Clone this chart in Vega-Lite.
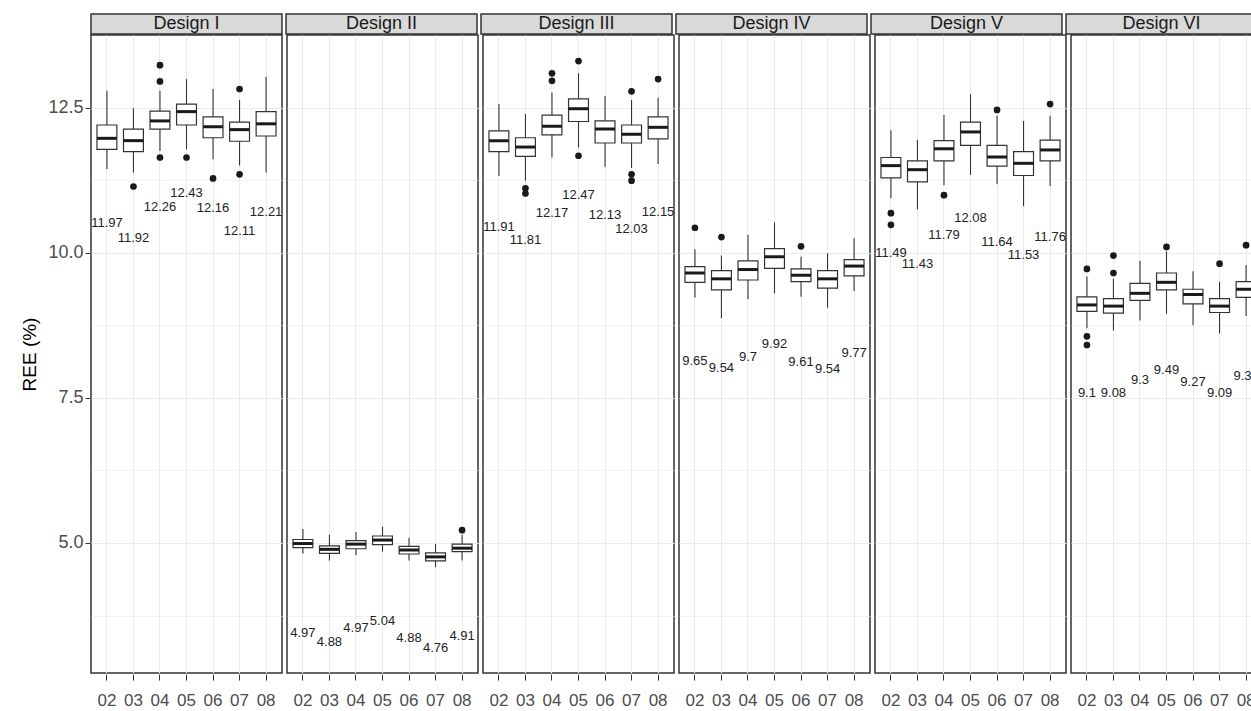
{
 "$schema": "https://vega.github.io/schema/vega-lite/v6.json",
 "padding": {"left": 20, "top": 13, "right": 0, "bottom": 5},
 "background": "white",
 "config": {
  "font": "Liberation Sans",
  "view": {"stroke": "#333333", "strokeWidth": 1.5}
 },
 "datasets": {
  "strips": [
   {"design": "Design I"}, {"design": "Design II"}, {"design": "Design III"},
   {"design": "Design IV"}, {"design": "Design V"}, {"design": "Design VI"}
  ],
  "ree": [
   {"design": "Design I", "year": "02", "lo": 11.44, "q1": 11.78, "med": 11.97, "q3": 12.20, "hi": 12.79, "mean": "11.97", "ly": 10.52},
   {"design": "Design I", "year": "03", "lo": 11.38, "q1": 11.74, "med": 11.93, "q3": 12.13, "hi": 12.49, "mean": "11.92", "ly": 10.245},
   {"design": "Design I", "year": "04", "lo": 11.75, "q1": 12.13, "med": 12.27, "q3": 12.44, "hi": 12.79, "mean": "12.26", "ly": 10.78},
   {"design": "Design I", "year": "05", "lo": 11.78, "q1": 12.20, "med": 12.43, "q3": 12.56, "hi": 12.99, "mean": "12.43", "ly": 11.02},
   {"design": "Design I", "year": "06", "lo": 11.61, "q1": 11.98, "med": 12.17, "q3": 12.34, "hi": 12.82, "mean": "12.16", "ly": 10.77},
   {"design": "Design I", "year": "07", "lo": 11.50, "q1": 11.92, "med": 12.12, "q3": 12.25, "hi": 12.63, "mean": "12.11", "ly": 10.38},
   {"design": "Design I", "year": "08", "lo": 11.38, "q1": 12.01, "med": 12.22, "q3": 12.43, "hi": 13.03, "mean": "12.21", "ly": 10.70},
   {"design": "Design I", "year": "03", "out": 11.14},
   {"design": "Design I", "year": "04", "out": 13.23},
   {"design": "Design I", "year": "04", "out": 12.95},
   {"design": "Design I", "year": "04", "out": 11.64},
   {"design": "Design I", "year": "05", "out": 11.64},
   {"design": "Design I", "year": "06", "out": 11.28},
   {"design": "Design I", "year": "07", "out": 12.82},
   {"design": "Design I", "year": "07", "out": 11.35},

   {"design": "Design II", "year": "02", "lo": 4.82, "q1": 4.92, "med": 4.99, "q3": 5.06, "hi": 5.24, "mean": "4.97", "ly": 3.446},
   {"design": "Design II", "year": "03", "lo": 4.70, "q1": 4.82, "med": 4.89, "q3": 4.95, "hi": 5.14, "mean": "4.88", "ly": 3.30},
   {"design": "Design II", "year": "04", "lo": 4.79, "q1": 4.90, "med": 4.98, "q3": 5.04, "hi": 5.19, "mean": "4.97", "ly": 3.53},
   {"design": "Design II", "year": "05", "lo": 4.85, "q1": 4.97, "med": 5.05, "q3": 5.12, "hi": 5.28, "mean": "5.04", "ly": 3.66},
   {"design": "Design II", "year": "06", "lo": 4.70, "q1": 4.81, "med": 4.88, "q3": 4.94, "hi": 5.09, "mean": "4.88", "ly": 3.36},
   {"design": "Design II", "year": "07", "lo": 4.58, "q1": 4.69, "med": 4.76, "q3": 4.83, "hi": 4.98, "mean": "4.76", "ly": 3.19},
   {"design": "Design II", "year": "08", "lo": 4.70, "q1": 4.85, "med": 4.91, "q3": 4.98, "hi": 5.14, "mean": "4.91", "ly": 3.40},
   {"design": "Design II", "year": "08", "out": 5.22},

   {"design": "Design III", "year": "02", "lo": 11.32, "q1": 11.74, "med": 11.93, "q3": 12.10, "hi": 12.56, "mean": "11.91", "ly": 10.435},
   {"design": "Design III", "year": "03", "lo": 11.24, "q1": 11.66, "med": 11.82, "q3": 11.98, "hi": 12.39, "mean": "11.81", "ly": 10.22},
   {"design": "Design III", "year": "04", "lo": 11.64, "q1": 12.03, "med": 12.18, "q3": 12.37, "hi": 12.76, "mean": "12.17", "ly": 10.68},
   {"design": "Design III", "year": "05", "lo": 11.81, "q1": 12.26, "med": 12.48, "q3": 12.65, "hi": 13.09, "mean": "12.47", "ly": 10.99},
   {"design": "Design III", "year": "06", "lo": 11.48, "q1": 11.89, "med": 12.13, "q3": 12.27, "hi": 12.70, "mean": "12.13", "ly": 10.65},
   {"design": "Design III", "year": "07", "lo": 11.46, "q1": 11.89, "med": 12.04, "q3": 12.20, "hi": 12.63, "mean": "12.03", "ly": 10.41},
   {"design": "Design III", "year": "08", "lo": 11.53, "q1": 11.96, "med": 12.16, "q3": 12.34, "hi": 12.67, "mean": "12.15", "ly": 10.70},
   {"design": "Design III", "year": "03", "out": 11.11},
   {"design": "Design III", "year": "03", "out": 11.02},
   {"design": "Design III", "year": "04", "out": 13.09},
   {"design": "Design III", "year": "04", "out": 12.96},
   {"design": "Design III", "year": "05", "out": 13.30},
   {"design": "Design III", "year": "05", "out": 11.67},
   {"design": "Design III", "year": "07", "out": 12.78},
   {"design": "Design III", "year": "07", "out": 11.35},
   {"design": "Design III", "year": "07", "out": 11.24},
   {"design": "Design III", "year": "08", "out": 12.99},

   {"design": "Design IV", "year": "02", "lo": 9.23, "q1": 9.49, "med": 9.65, "q3": 9.76, "hi": 10.06, "mean": "9.65", "ly": 8.14},
   {"design": "Design IV", "year": "03", "lo": 8.87, "q1": 9.36, "med": 9.55, "q3": 9.69, "hi": 9.95, "mean": "9.54", "ly": 8.01},
   {"design": "Design IV", "year": "04", "lo": 9.20, "q1": 9.53, "med": 9.71, "q3": 9.86, "hi": 10.31, "mean": "9.7", "ly": 8.21},
   {"design": "Design IV", "year": "05", "lo": 9.30, "q1": 9.73, "med": 9.93, "q3": 10.07, "hi": 10.52, "mean": "9.92", "ly": 8.43},
   {"design": "Design IV", "year": "06", "lo": 9.24, "q1": 9.50, "med": 9.61, "q3": 9.72, "hi": 9.93, "mean": "9.61", "ly": 8.11},
   {"design": "Design IV", "year": "07", "lo": 9.05, "q1": 9.39, "med": 9.55, "q3": 9.69, "hi": 9.99, "mean": "9.54", "ly": 8.00},
   {"design": "Design IV", "year": "08", "lo": 9.34, "q1": 9.60, "med": 9.77, "q3": 9.88, "hi": 10.25, "mean": "9.77", "ly": 8.27},
   {"design": "Design IV", "year": "02", "out": 10.43},
   {"design": "Design IV", "year": "03", "out": 10.27},
   {"design": "Design IV", "year": "06", "out": 10.11},

   {"design": "Design V", "year": "02", "lo": 10.94, "q1": 11.29, "med": 11.50, "q3": 11.64, "hi": 12.11, "mean": "11.49", "ly": 10.0},
   {"design": "Design V", "year": "03", "lo": 10.75, "q1": 11.22, "med": 11.43, "q3": 11.58, "hi": 11.94, "mean": "11.43", "ly": 9.81},
   {"design": "Design V", "year": "04", "lo": 11.16, "q1": 11.58, "med": 11.79, "q3": 11.93, "hi": 12.37, "mean": "11.79", "ly": 10.30},
   {"design": "Design V", "year": "05", "lo": 11.34, "q1": 11.85, "med": 12.08, "q3": 12.25, "hi": 12.73, "mean": "12.08", "ly": 10.60},
   {"design": "Design V", "year": "06", "lo": 11.18, "q1": 11.49, "med": 11.65, "q3": 11.85, "hi": 12.36, "mean": "11.64", "ly": 10.19},
   {"design": "Design V", "year": "07", "lo": 10.80, "q1": 11.33, "med": 11.54, "q3": 11.74, "hi": 12.27, "mean": "11.53", "ly": 9.96},
   {"design": "Design V", "year": "08", "lo": 11.15, "q1": 11.58, "med": 11.77, "q3": 11.94, "hi": 12.36, "mean": "11.76", "ly": 10.27},
   {"design": "Design V", "year": "02", "out": 10.68},
   {"design": "Design V", "year": "02", "out": 10.48},
   {"design": "Design V", "year": "04", "out": 10.99},
   {"design": "Design V", "year": "06", "out": 12.46},
   {"design": "Design V", "year": "08", "out": 12.56},

   {"design": "Design VI", "year": "02", "lo": 8.70, "q1": 8.99, "med": 9.10, "q3": 9.24, "hi": 9.59, "mean": "9.1", "ly": 7.58},
   {"design": "Design VI", "year": "03", "lo": 8.66, "q1": 8.96, "med": 9.08, "q3": 9.21, "hi": 9.55, "mean": "9.08", "ly": 7.58},
   {"design": "Design VI", "year": "04", "lo": 8.83, "q1": 9.18, "med": 9.30, "q3": 9.47, "hi": 9.86, "mean": "9.3", "ly": 7.80},
   {"design": "Design VI", "year": "05", "lo": 8.95, "q1": 9.36, "med": 9.49, "q3": 9.65, "hi": 10.02, "mean": "9.49", "ly": 7.98},
   {"design": "Design VI", "year": "06", "lo": 8.75, "q1": 9.12, "med": 9.28, "q3": 9.37, "hi": 9.68, "mean": "9.27", "ly": 7.77},
   {"design": "Design VI", "year": "07", "lo": 8.61, "q1": 8.97, "med": 9.08, "q3": 9.21, "hi": 9.50, "mean": "9.09", "ly": 7.59},
   {"design": "Design VI", "year": "08", "lo": 8.91, "q1": 9.23, "med": 9.37, "q3": 9.50, "hi": 9.79, "mean": "9.36", "ly": 7.88},
   {"design": "Design VI", "year": "02", "out": 9.72},
   {"design": "Design VI", "year": "02", "out": 8.56},
   {"design": "Design VI", "year": "02", "out": 8.41},
   {"design": "Design VI", "year": "03", "out": 9.95},
   {"design": "Design VI", "year": "03", "out": 9.65},
   {"design": "Design VI", "year": "05", "out": 10.10},
   {"design": "Design VI", "year": "07", "out": 9.81},
   {"design": "Design VI", "year": "08", "out": 10.13}
  ]
 },
 "spacing": -1.5,
 "vconcat": [
  {
   "data": {"name": "strips"},
   "facet": {"column": {"field": "design", "type": "nominal", "sort": ["Design I", "Design II", "Design III", "Design IV", "Design V", "Design VI"], "header": {"labels": false, "title": null}}},
   "spacing": 2,
   "spec": {
    "width": 191,
    "height": 20,
    "view": {"fill": "#d9d9d9", "stroke": "#333333", "strokeWidth": 1.5},
    "mark": {"type": "text", "fontSize": 18, "color": "#1a1a1a", "baseline": "middle", "align": "center"},
    "encoding": {"text": {"field": "design", "type": "nominal"}}
   }
  },
  {
   "data": {"name": "ree"},
   "facet": {"column": {"field": "design", "type": "nominal", "sort": ["Design I", "Design II", "Design III", "Design IV", "Design V", "Design VI"], "header": {"labels": false, "title": null}}},
   "spacing": 2,
   "spec": {
    "width": 191,
    "height": 638,
    "view": {"fill": "white", "stroke": "#333333", "strokeWidth": 1.5},
    "encoding": {
     "x": {
      "field": "year", "type": "ordinal", "title": null,
      "scale": {"paddingInner": 0.25, "paddingOuter": 0.225},
      "axis": {"bandPosition": 0.5, "labelAngle": 0, "grid": true, "gridColor": "#ebebeb", "gridWidth": 1, "domain": false, "ticks": true, "tickColor": "#333333", "tickSize": 6, "tickWidth": 1, "labelFontSize": 17, "labelColor": "#4d4d4d", "labelPadding": 12}
     }
    },
    "layer": [
     {
      "transform": [{"filter": "isValid(datum.lo)"}],
      "mark": {"type": "rule", "color": "#333333", "strokeWidth": 1.1},
      "encoding": {
       "y": {
        "field": "lo", "type": "quantitative", "title": "REE (%)",
        "scale": {"domain": [2.76, 13.75], "nice": false, "zero": false},
        "axis": {
         "values": [3.75, 5, 6.25, 7.5, 8.75, 10, 11.25, 12.5],
         "labelExpr": "datum.value % 2.5 === 0 ? format(datum.value, '.1f') : ''",
         "grid": true, "gridColor": "#ebebeb",
         "gridWidth": {"condition": {"test": "datum.value % 2.5 !== 0", "value": 0.6}, "value": 1.1},
         "domain": false, "tickColor": "#333333", "tickSize": 5, "tickWidth": 1,
         "tickOpacity": {"condition": {"test": "datum.value % 2.5 !== 0", "value": 0}, "value": 1},
         "labelFontSize": 18, "labelColor": "#4d4d4d", "labelPadding": 2,
         "titleFontSize": 19, "titleFontWeight": "normal", "titleColor": "#000000", "titlePadding": 8
        }
       },
       "y2": {"field": "hi"}
      }
     },
     {
      "transform": [{"filter": "isValid(datum.q1)"}],
      "mark": {"type": "bar", "fill": "white", "stroke": "#333333", "strokeWidth": 1.2, "width": {"band": 1}},
      "encoding": {"y": {"field": "q1", "type": "quantitative", "title": "REE (%)"}, "y2": {"field": "q3"}}
     },
     {
      "transform": [{"filter": "isValid(datum.med)"}],
      "mark": {"type": "tick", "color": "#1a1a1a", "thickness": 3, "size": 19.9, "opacity": 1},
      "encoding": {"y": {"field": "med", "type": "quantitative", "title": "REE (%)"}}
     },
     {
      "transform": [{"filter": "isValid(datum.out)"}],
      "mark": {"type": "point", "shape": "circle", "filled": true, "size": 45, "color": "#1a1a1a", "opacity": 1},
      "encoding": {"y": {"field": "out", "type": "quantitative", "title": "REE (%)"}}
     },
     {
      "transform": [{"filter": "isValid(datum.ly)"}],
      "mark": {"type": "text", "fontSize": 13, "color": "#222222", "baseline": "middle", "align": "center"},
      "encoding": {"y": {"field": "ly", "type": "quantitative", "title": "REE (%)"}, "text": {"field": "mean", "type": "nominal"}}
     }
    ]
   }
  }
 ]
}
